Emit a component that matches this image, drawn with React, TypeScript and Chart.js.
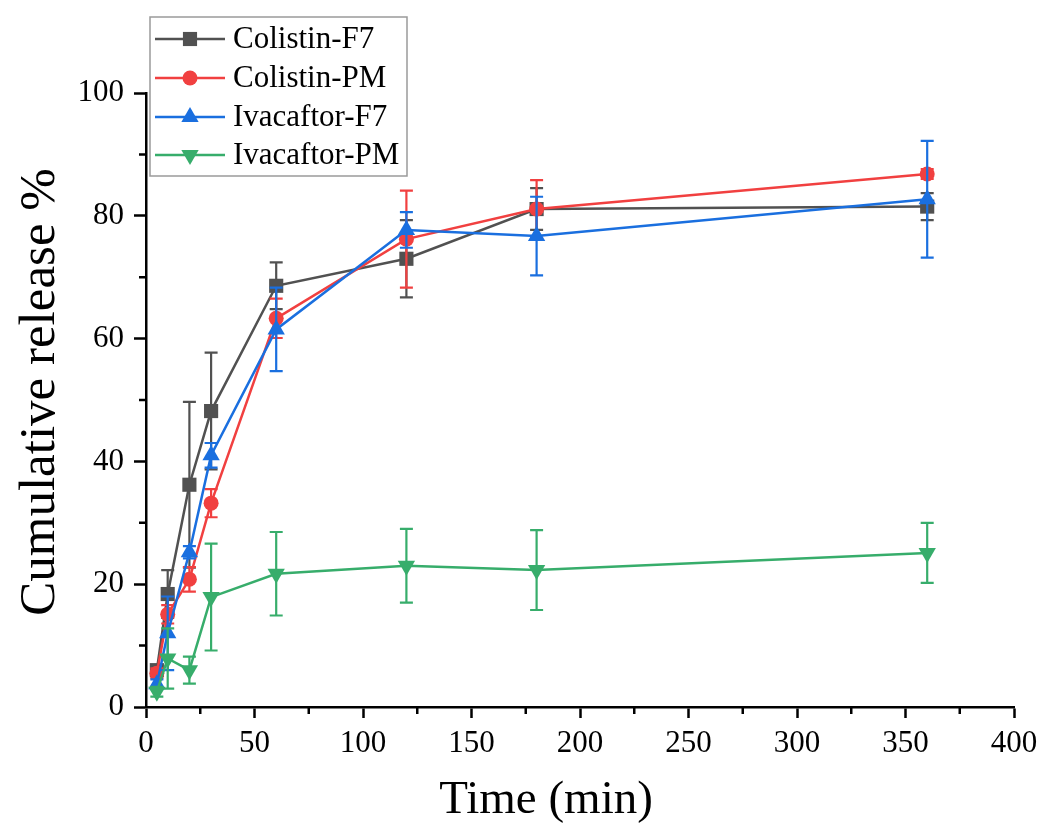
import React, { useEffect, useRef } from 'react';
import { Chart, registerables } from 'chart.js';

Chart.register(...registerables);

// ---- data ----
const timeMin = [5, 10, 20, 30, 60, 120, 180, 360];

const seriesNames = ['Colistin-F7', 'Colistin-PM', 'Ivacaftor-F7', 'Ivacaftor-PM'];

const colistinF7 = [6.0, 18.4, 36.2, 48.2, 68.6, 73.0, 81.1, 81.5];
const colistinF7Err = [0.8, 3.9, 13.5, 9.5, 3.8, 6.3, 3.4, 2.2];

const colistinPM = [5.5, 15.1, 20.8, 33.2, 63.3, 76.2, 81.1, 86.8];
const colistinPMErr = [0.8, 1.5, 2.0, 2.3, 3.2, 7.9, 4.7, 0.8];

const ivacaftorF7 = [3.7, 12.0, 25.2, 41.0, 61.5, 77.7, 76.7, 82.7];
const ivacaftorF7Err = [0.8, 6.0, 1.0, 2.0, 6.8, 2.9, 6.4, 9.5];

const ivacaftorPM = [2.5, 7.9, 6.0, 17.9, 21.7, 23.0, 22.3, 25.1];
const ivacaftorPMErr = [0.8, 4.9, 2.2, 8.7, 6.8, 6.0, 6.5, 4.9];

const xMinorTicks = [25, 75, 125, 175, 225, 275, 325, 375];
const yMinorTicks = [10, 30, 50, 70, 90];

const xTitle = 'Time (min)';
const yTitle = 'Cumulative release %';

// ---- styles ----
const colors = ['#515151', '#F14040', '#1A6FDF', '#37AD6B'];
const markerStyles = ['rect', 'circle', 'triangle', 'triangle'];
const markerRotations = [0, 0, 0, 180];
const markerRadii = [10, 7.5, 10, 10];
const FONT = '"Liberation Serif", "Times New Roman", serif';

function drawMarker(ctx: CanvasRenderingContext2D, style: string, rot: number, x: number, y: number, r: number, color: string) {
  ctx.save();
  ctx.fillStyle = color;
  ctx.beginPath();
  if (style === 'rect') {
    const s = Math.SQRT1_2 * r;
    ctx.rect(x - s, y - s, 2 * s, 2 * s);
  } else if (style === 'circle') {
    ctx.arc(x, y, r, 0, Math.PI * 2);
  } else {
    let rad = (rot * Math.PI) / 180;
    ctx.moveTo(x + Math.sin(rad) * r, y - Math.cos(rad) * r);
    rad += (2 * Math.PI) / 3;
    ctx.lineTo(x + Math.sin(rad) * r, y - Math.cos(rad) * r);
    rad += (2 * Math.PI) / 3;
    ctx.lineTo(x + Math.sin(rad) * r, y - Math.cos(rad) * r);
    ctx.closePath();
  }
  ctx.fill();
  ctx.restore();
}

const errorBarPlugin = {
  id: 'errorBars',
  beforeDatasetDraw(chart: any, args: any) {
    const ds = chart.data.datasets[args.index];
    const errs: number[] = ds.errors;
    if (!errs) return;
    const { ctx, scales } = chart;
    const xs = scales.x;
    const ys = scales.y;
    ctx.save();
    ctx.strokeStyle = ds.borderColor;
    ctx.lineWidth = 2.2;
    const cap = 6.5;
    ds.data.forEach((p: any, i: number) => {
      const e = errs[i];
      const px = xs.getPixelForValue(p.x);
      const top = ys.getPixelForValue(p.y + e);
      const bot = ys.getPixelForValue(p.y - e);
      ctx.beginPath();
      ctx.moveTo(px, top);
      ctx.lineTo(px, bot);
      ctx.moveTo(px - cap, top);
      ctx.lineTo(px + cap, top);
      ctx.moveTo(px - cap, bot);
      ctx.lineTo(px + cap, bot);
      ctx.stroke();
    });
    ctx.restore();
  },
};

const decorPlugin = {
  id: 'decor',
  afterDraw(chart: any) {
    const { ctx, chartArea, scales } = chart;
    const xs = scales.x;
    const ys = scales.y;
    ctx.save();
    // minor ticks
    ctx.strokeStyle = '#000';
    ctx.lineWidth = 2.5;
    ctx.beginPath();
    yMinorTicks.forEach((v) => {
      const py = ys.getPixelForValue(v);
      ctx.moveTo(chartArea.left - 7, py);
      ctx.lineTo(chartArea.left, py);
    });
    xMinorTicks.forEach((v) => {
      const px = xs.getPixelForValue(v);
      ctx.moveTo(px, chartArea.bottom);
      ctx.lineTo(px, chartArea.bottom + 7);
    });
    ctx.stroke();

    // axis titles
    ctx.fillStyle = '#000';
    ctx.font = `47px ${FONT}`;
    ctx.textAlign = 'center';
    ctx.textBaseline = 'alphabetic';
    ctx.fillText(xTitle, 546, 813);
    ctx.save();
    ctx.translate(54, 392);
    ctx.rotate(-Math.PI / 2);
    ctx.font = `51px ${FONT}`;
    ctx.fillText(yTitle, 0, 0);
    ctx.restore();

    // legend
    const bx = 150, by = 17, bw = 257, bh = 159;
    ctx.fillStyle = '#fff';
    ctx.fillRect(bx, by, bw, bh);
    ctx.strokeStyle = '#9a9a9a';
    ctx.lineWidth = 1.5;
    ctx.strokeRect(bx, by, bw, bh);
    const rows = [39, 78, 117, 155];
    ctx.font = `31px ${FONT}`;
    ctx.textAlign = 'left';
    ctx.textBaseline = 'middle';
    seriesNames.forEach((name, i) => {
      const y = rows[i];
      ctx.strokeStyle = colors[i];
      ctx.lineWidth = 2.5;
      ctx.beginPath();
      ctx.moveTo(155, y);
      ctx.lineTo(225, y);
      ctx.stroke();
      drawMarker(ctx, markerStyles[i], markerRotations[i], 190, y, markerRadii[i], colors[i]);
      ctx.fillStyle = '#000';
      ctx.fillText(name, 233, y + 1);
    });
    ctx.restore();
  },
};

function toPoints(ys: number[]) {
  return timeMin.map((t, i) => ({ x: t, y: ys[i] }));
}

export default function App() {
  const ref = useRef<HTMLCanvasElement | null>(null);

  useEffect(() => {
    if (!ref.current) return;
    const values = [colistinF7, colistinPM, ivacaftorF7, ivacaftorPM];
    const errors = [colistinF7Err, colistinPMErr, ivacaftorF7Err, ivacaftorPMErr];
    const datasets: any[] = seriesNames.map((name, i) => ({
      label: name,
      data: toPoints(values[i]),
      errors: errors[i],
      borderColor: colors[i],
      backgroundColor: colors[i],
      borderWidth: 2.5,
      pointStyle: markerStyles[i],
      rotation: markerRotations[i],
      pointRadius: markerRadii[i],
      pointBorderWidth: 0,
      pointBackgroundColor: colors[i],
      pointBorderColor: colors[i],
      tension: 0,
      fill: false,
      order: 4 - i,
    }));

    const chart = new Chart(ref.current, {
      type: 'line',
      data: { datasets },
      plugins: [errorBarPlugin, decorPlugin],
      options: {
        animation: false,
        responsive: false,
        devicePixelRatio: 1,
        layout: { padding: { top: 93, right: 36, left: 0, bottom: 0 } },
        plugins: {
          legend: { display: false },
          tooltip: { enabled: false },
          title: { display: false },
        },
        scales: {
          x: {
            type: 'linear',
            min: 0,
            max: 400,
            ticks: {
              stepSize: 50,
              color: '#000',
              font: { family: FONT, size: 31 },
              padding: 7,
              maxRotation: 0,
            },
            grid: {
              drawOnChartArea: false,
              drawTicks: true,
              tickLength: 11,
              tickWidth: 2.5,
              tickColor: '#000',
            },
            border: { display: true, color: '#000', width: 2.5 },
            afterFit(scale: any) {
              scale.height = 131;
              scale.paddingLeft = 0;
              scale.paddingRight = 0;
            },
          },
          y: {
            type: 'linear',
            min: 0,
            max: 100,
            ticks: {
              stepSize: 20,
              color: '#000',
              font: { family: FONT, size: 31 },
              padding: 10,
            },
            grid: {
              drawOnChartArea: false,
              drawTicks: true,
              tickLength: 12,
              tickWidth: 2.5,
              tickColor: '#000',
            },
            border: { display: true, color: '#000', width: 2.5 },
            afterFit(scale: any) {
              scale.width = 146;
              scale.paddingTop = 0;
              scale.paddingBottom = 0;
            },
          },
        },
      } as any,
    });
    return () => chart.destroy();
  }, []);

  return (
    <div style={{ position: 'fixed', left: 0, top: 0, width: 1050, height: 838, background: '#fff' }}>
      <canvas ref={ref} width={1050} height={838} style={{ display: 'block', width: 1050, height: 838 }} />
    </div>
  );
}
